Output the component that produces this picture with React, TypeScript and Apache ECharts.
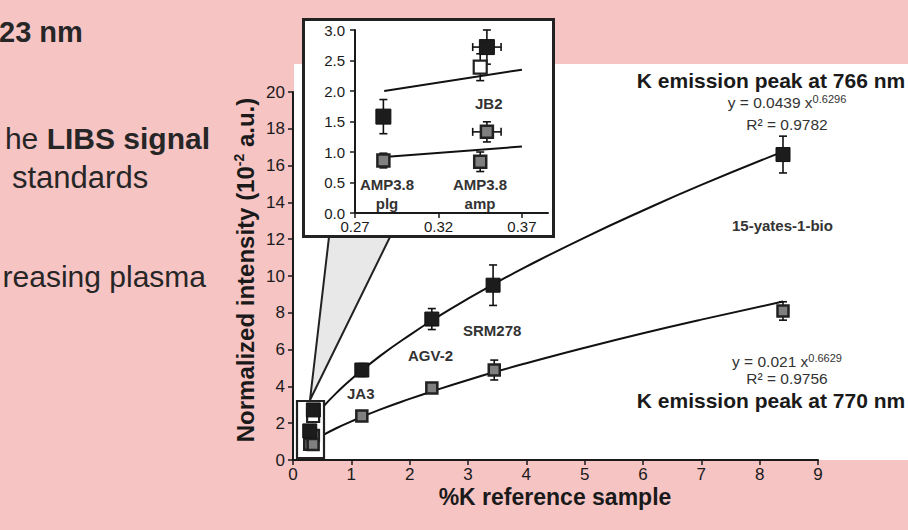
import React, { useEffect, useRef } from "react";
import * as echarts from "echarts";

// ---------- data ----------
// K emission peak at 766 nm (black squares)
const kPct766 = [0.287, 0.349, 1.18, 2.38, 3.43, 8.4];
const int766 = [1.58, 2.72, 4.89, 7.66, 9.5, 16.6];
const yErr766 = [0.28, 0.28, 0.35, 0.57, 1.1, 1.0];
const xErr766 = [0, 0.0085, 0, 0, 0, 0];

// K emission peak at 770 nm (grey squares)
const kPct770 = [0.287, 0.349, 0.345, 1.18, 2.38, 3.45, 8.4];
const int770 = [0.86, 1.33, 0.84, 2.39, 3.91, 4.89, 8.1];
const yErr770 = [0.12, 0.165, 0.16, 0.12, 0.12, 0.54, 0.5];
const xErr770 = [0, 0.0085, 0, 0, 0, 0, 0];

// open square (JB2)
const kPctOpen = [0.345];
const intOpen = [2.39];
const yErrOpen = [0.22];
const xErrOpen = [0];

// fitted trend lines as drawn
const fitX = [0.5, 0.75, 1, 1.5, 2, 2.5, 3, 3.5, 4, 5, 6, 7, 8.4];
const fit766 = [2.84, 3.66, 4.39, 5.67, 6.79, 7.82, 8.77, 9.66, 10.51, 12.09, 13.56, 14.95, 16.76];
const fit770 = [1.33, 1.74, 2.1, 2.75, 3.32, 3.85, 4.35, 4.82, 5.26, 6.1, 6.89, 7.63, 8.61];
const insetFitX = [0.2875, 0.37];
const insetFit766 = [2.0, 2.35];
const insetFit770 = [0.92, 1.09];

const insetXTicks = [0.27, 0.32, 0.37];

const FONT = "'Liberation Sans', Arial, Helvetica, sans-serif";
const INK = "#1a1a1a";

const pairs = (xs: number[], ys: number[]) => xs.map((x, i) => [x, ys[i]]);
const errRows = (xs: number[], ys: number[], xe: number[], ye: number[]) =>
  xs.map((x, i) => [x, ys[i], xe[i], ye[i]]);

const errorBarRender = (params: any, api: any) => {
  const x = api.value(0);
  const y = api.value(1);
  const xe = api.value(2);
  const ye = api.value(3);
  const cap = 4;
  const style = { stroke: "#111", lineWidth: 1.6 };
  const children: any[] = [];
  if (ye > 0) {
    const t = api.coord([x, y + ye]);
    const b = api.coord([x, y - ye]);
    children.push({ type: "line", shape: { x1: t[0], y1: t[1], x2: b[0], y2: b[1] }, style });
    children.push({ type: "line", shape: { x1: t[0] - cap, y1: t[1], x2: t[0] + cap, y2: t[1] }, style });
    children.push({ type: "line", shape: { x1: b[0] - cap, y1: b[1], x2: b[0] + cap, y2: b[1] }, style });
  }
  if (xe > 0) {
    const l = api.coord([x - xe, y]);
    const r = api.coord([x + xe, y]);
    children.push({ type: "line", shape: { x1: l[0], y1: l[1], x2: r[0], y2: r[1] }, style });
    children.push({ type: "line", shape: { x1: l[0], y1: l[1] - cap, x2: l[0], y2: l[1] + cap }, style });
    children.push({ type: "line", shape: { x1: r[0], y1: r[1] - cap, x2: r[0], y2: r[1] + cap }, style });
  }
  return { type: "group", children };
};

const txt = (x: number, y: number, text: string, o: any = {}) => ({
  type: "text",
  x,
  y,
  z: o.z ?? 30,
  rotation: o.rotation ?? 0,
  style: {
    text,
    fill: o.color ?? INK,
    fontSize: o.size ?? 15,
    fontWeight: o.bold ? "bold" : "normal",
    fontFamily: FONT,
    align: o.align ?? "left",
    textAlign: o.align ?? "left",
    verticalAlign: "middle",
    textVerticalAlign: "middle",
    lineHeight: o.lineHeight,
    rich: o.rich,
  },
});

const axisCommon = (fontSize: number, margin: number) => ({
  axisLine: { show: true, onZero: false, lineStyle: { color: INK, width: 2 } },
  axisTick: { show: true, length: 5, lineStyle: { color: INK, width: 1.5 } },
  axisLabel: { fontSize, color: INK, fontFamily: FONT, margin },
  splitLine: { show: false },
});

export default function App() {
  const ref = useRef<HTMLDivElement>(null);
  useEffect(() => {
    if (!ref.current) return;
    const chart = echarts.init(ref.current, null, { renderer: "svg" });

    // zBase: main plot 5, inset 12
    const pointSets = (xi: number, size: number, zBase: number) => {
      const err = (xs: number[], ys: number[], xe: number[], ye: number[]) => ({
        type: "custom",
        xAxisIndex: xi,
        yAxisIndex: xi,
        renderItem: errorBarRender,
        data: errRows(xs, ys, xe, ye),
        encode: { x: 0, y: 1 },
        z: zBase,
        silent: true,
        clip: false,
      });
      const pts = (xs: number[], ys: number[], sz: number, itemStyle: any) => ({
        type: "scatter",
        xAxisIndex: xi,
        yAxisIndex: xi,
        symbol: "rect",
        symbolSize: sz,
        data: pairs(xs, ys),
        itemStyle: { ...itemStyle, opacity: 1 },
        z: zBase + 1,
      });
      return [
        err(kPctOpen, intOpen, xErrOpen, yErrOpen),
        pts(kPctOpen, intOpen, size - 2, { color: "#ffffff", borderColor: "#222", borderWidth: 2.2 }),
        err(kPct770, int770, xErr770, yErr770),
        pts(kPct770, int770, size - 3, { color: "#808080", borderColor: "#222", borderWidth: 2.5 }),
        err(kPct766, int766, xErr766, yErr766),
        pts(kPct766, int766, size, { color: "#1c1c1c", borderColor: "#111", borderWidth: 1 }),
      ];
    };

    const line = (xi: number, xs: number[], ys: number[], smooth: boolean, z: number) => ({
      type: "line",
      xAxisIndex: xi,
      yAxisIndex: xi,
      data: pairs(xs, ys),
      smooth,
      symbol: "none",
      lineStyle: { color: "#111", width: 2 },
      z,
    });

    chart.setOption({
      animation: false,
      backgroundColor: "transparent",
      grid: [
        { left: 293, top: 92, width: 525, height: 368 },
        { left: 355, top: 30, width: 193, height: 183 },
      ],
      xAxis: [
        {
          gridIndex: 0,
          type: "value",
          min: 0,
          max: 9,
          interval: 1,
          ...axisCommon(17, 6),
          z: 0,
        },
        {
          gridIndex: 1,
          type: "value",
          min: 0.27,
          max: 0.3856,
          ...axisCommon(15, 6),
          axisTick: { show: true, length: 5, customValues: insetXTicks, lineStyle: { color: INK, width: 1.5 } },
          axisLabel: {
            fontSize: 15,
            color: INK,
            fontFamily: FONT,
            margin: 6,
            customValues: insetXTicks,
            formatter: (v: number) => v.toFixed(2),
          },
          z: 10,
        },
      ],
      yAxis: [
        {
          gridIndex: 0,
          type: "value",
          min: 0,
          max: 20,
          interval: 2,
          ...axisCommon(17, 8),
          z: 0,
        },
        {
          gridIndex: 1,
          type: "value",
          min: 0,
          max: 3,
          interval: 0.5,
          ...axisCommon(15, 10),
          axisLabel: { fontSize: 15, color: INK, fontFamily: FONT, margin: 10, formatter: (v: number) => v.toFixed(1) },
          z: 10,
        },
      ],
      graphic: [
        // white panel behind the plot
        { type: "rect", z: -10, shape: { x: 294, y: 64, width: 614, height: 396 }, style: { fill: "#ffffff" } },
        // zoom wedge
        {
          type: "polygon",
          z: 4,
          shape: { points: [[310, 400], [329, 237], [390, 237]] },
          style: { fill: "#e8e8e8", stroke: "#222", lineWidth: 2 },
        },
        // small box around the low-K points
        { type: "rect", z: 4, shape: { x: 297, y: 401, width: 27, height: 57 }, style: { fill: "#ffffff", stroke: "#222", lineWidth: 2.2 } },
        // inset box
        { type: "rect", z: 9, shape: { x: 303.5, y: 19.5, width: 250, height: 217 }, style: { fill: "#ffffff", stroke: "#222", lineWidth: 3 } },

        // slide text fragments on the left
        txt(-1, 32, "23 nm", { size: 29, bold: true, color: "#262626" }),
        txt(210, 138, "{n|he }{b|LIBS signal}", {
          align: "right",
          size: 30,
          color: "#262626",
          rich: {
            n: { fontSize: 30, fontFamily: FONT, fill: "#262626", color: "#262626" },
            b: { fontSize: 30, fontFamily: FONT, fontWeight: "bold", fill: "#262626", color: "#262626" },
          },
        }),
        txt(12, 177, "standards", { size: 31, color: "#262626" }),
        txt(206, 276, "reasing plasma", { size: 30, color: "#262626", align: "right" }),

        // axis titles
        txt(555, 497, "%K reference sample", { size: 23, bold: true, align: "center" }),
        txt(245, 270, "{b|Normalized intensity (10}{s|-2}{b| a.u.)}", {
          align: "center",
          rotation: Math.PI / 2,
          size: 24,
          bold: true,
          rich: {
            b: { fontSize: 24, fontWeight: "bold", fontFamily: FONT, fill: INK, color: INK, lineHeight: 26 },
            s: { fontSize: 14, fontWeight: "bold", fontFamily: FONT, fill: INK, color: INK, verticalAlign: "top", lineHeight: 16 },
          },
        }),

        // peak annotations
        txt(771, 80, "K emission peak at 766 nm", { size: 21, bold: true, align: "center" }),
        txt(787, 102, "{n|y = 0.0439 x}{s|0.6296}", {
          align: "center",
          color: "#333",
          rich: {
            n: { fontSize: 15.5, fontFamily: FONT, fill: "#333", color: "#333", lineHeight: 18 },
            s: { fontSize: 11, fontFamily: FONT, fill: "#333", color: "#333", verticalAlign: "top", lineHeight: 12 },
          },
        }),
        txt(787, 124, "R² = 0.9782", { size: 15.5, color: "#333", align: "center" }),
        txt(787, 361, "{n|y = 0.021 x}{s|0.6629}", {
          align: "center",
          color: "#333",
          rich: {
            n: { fontSize: 15.5, fontFamily: FONT, fill: "#333", color: "#333", lineHeight: 18 },
            s: { fontSize: 11, fontFamily: FONT, fill: "#333", color: "#333", verticalAlign: "top", lineHeight: 12 },
          },
        }),
        txt(787, 378, "R² = 0.9756", { size: 15.5, color: "#333", align: "center" }),
        txt(771, 400, "K emission peak at 770 nm", { size: 21, bold: true, align: "center" }),

        // sample labels
        txt(732, 225, "15-yates-1-bio", { size: 15, bold: true, color: "#333" }),
        txt(463, 330, "SRM278", { size: 15, bold: true, color: "#333" }),
        txt(408, 355, "AGV-2", { size: 15, bold: true, color: "#333" }),
        txt(347, 393, "JA3", { size: 15, bold: true, color: "#333" }),
        txt(475, 103, "JB2", { size: 15, bold: true, color: "#333" }),
        txt(387, 194, "AMP3.8\nplg", { size: 15, bold: true, color: "#333", align: "center", lineHeight: 19 }),
        txt(480, 194, "AMP3.8\namp", { size: 15, bold: true, color: "#333", align: "center", lineHeight: 19 }),
      ],
      series: [
        line(0, fitX, fit766, true, 1),
        line(0, fitX, fit770, true, 1),
        ...pointSets(0, 14, 5),
        line(1, insetFitX, insetFit766, false, 11),
        line(1, insetFitX, insetFit770, false, 11),
        ...pointSets(1, 15, 12),
      ],
    });
    return () => chart.dispose();
  }, []);

  return (
    <div
      ref={ref}
      style={{ position: "absolute", left: 0, top: 0, width: 908, height: 530, background: "#f7c4c4" }}
    />
  );
}
